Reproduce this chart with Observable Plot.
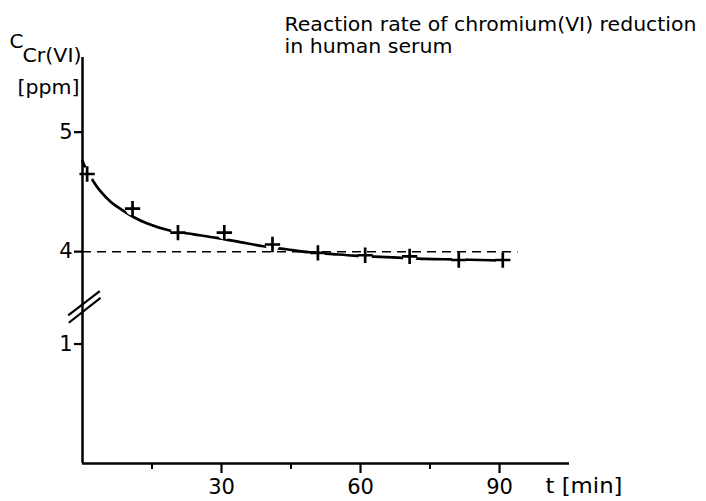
<!DOCTYPE html>
<html><head><meta charset="utf-8">
<script src="https://cdn.jsdelivr.net/npm/d3@7"></script>
<script src="https://cdn.jsdelivr.net/npm/@observablehq/plot@0.6"></script>
<style>body{margin:0;background:#fff;} svg{display:block}</style>
</head><body><div id="chart"></div>
<script>
// measured points (crosses)
const pointT = [1, 10.8, 20.6, 30.6, 41, 50.8, 61, 70.6, 81.2, 90.7];
const pointC = [4.65, 4.36, 4.16, 4.16, 4.06, 3.99, 3.97, 3.96, 3.93, 3.93];
// fitted curve
const curveT = [0, 1, 2, 3, 4, 6, 8.5, 11, 14, 19, 24, 29, 34, 39, 44, 49, 54, 58.5, 63, 68, 74, 80, 86, 91.3];
const curveC = [4.76, 4.67, 4.61, 4.55, 4.5, 4.42, 4.35, 4.29, 4.235, 4.175, 4.145, 4.115, 4.08, 4.045, 4.02, 3.995, 3.98, 3.967, 3.958, 3.95, 3.94, 3.935, 3.93, 3.925];
// reference level
const refLevel = [4];
const refEndT = 94;
// ticks
const xTicksMajor = [30, 60, 90];
const xTicksMinor = [15, 45, 75];
const yTicks = [1, 4, 5];
// axis break: values up to breakLow are shifted up to join at breakHigh
const breakLow = 1.29, breakHigh = 3.517, yMax = 5.625;
const xMax = 105.1;
// break marks
const breakX1 = [-3.09, -2.96];
const breakY1 = [1.239, 1.178];
const breakX2 = [3.73, 3.89];
const breakY2 = [3.670, 3.614];

const points = pointT.map((t, i) => ({t, c: pointC[i]}));
const curve = curveT.map((t, i) => ({t, c: curveC[i]}));
const breaks = breakX1.map((x1, i) => ({x1, y1: breakY1[i], x2: breakX2[i], y2: breakY2[i]}));

const shift = breakHigh - breakLow;
const yTransform = v => (v <= breakLow ? v + shift : v);
const yInverse = v => (v < breakHigh ? v - shift : v);

const font = "DejaVu Sans, sans-serif";
const chart = Plot.plot({
  width: 706, height: 501,
  marginLeft: 82, marginRight: 137, marginTop: 57, marginBottom: 38,
  style: {fontFamily: font, background: "#fff", color: "#000", overflow: "visible"},
  x: {domain: [0, xMax]},
  y: {transform: yTransform, domain: [shift, yMax]},
  marks: [
    Plot.line(curve, {x: "t", y: "c", curve: "monotone-x", stroke: "#000", strokeWidth: 2.7}),
    Plot.dot(points, {x: "t", y: "c", r: 7, fill: "#fff", stroke: "none"}),
    Plot.dot(points, {x: "t", y: "c", symbol: "plus", r: 5, stroke: "#000", strokeWidth: 2.7}),
    Plot.ruleY(refLevel, {x1: 0, x2: refEndT, stroke: "#000", strokeWidth: 1.5, strokeDasharray: "9,6"}),
    Plot.ruleX([0], {stroke: "#000", strokeWidth: 2.5}),
    Plot.ruleY([0], {stroke: "#000", strokeWidth: 2.5}),
    Plot.link(breaks, {x1: "x1", y1: "y1", x2: "x2", y2: "y2", stroke: "#000", strokeWidth: 2.2}),
    Plot.axisX({ticks: xTicksMajor, tickSize: 10, tickPadding: 6, fontSize: 21, strokeWidth: 2.2, label: null, tickFormat: d => String(d)}),
    Plot.axisX({ticks: xTicksMinor, tickSize: 6, tickFormat: () => "", strokeWidth: 2, label: null}),
    Plot.axisY({ticks: yTicks.map(yTransform), tickSize: 8, tickPadding: 2, fontSize: 21, strokeWidth: 2.2, label: null, tickFormat: d => String(Math.round(yInverse(d)))}),
    // annotations
    Plot.text(["Reaction rate of chromium(VI) reduction"], {frameAnchor: "top-left", dx: 202, dy: -41, textAnchor: "start", fontSize: 20, className: "t-title1"}),
    Plot.text(["in human serum"], {frameAnchor: "top-left", dx: 202, dy: -19, textAnchor: "start", fontSize: 20, className: "t-title2"}),
    Plot.text(["C"], {frameAnchor: "top-left", dx: -73, dy: -24, textAnchor: "start", fontSize: 20}),
    Plot.text(["Cr(VI)"], {frameAnchor: "top-left", dx: -60, dy: -9, textAnchor: "start", fontSize: 19, className: "t-sub"}),
    Plot.text(["[ppm]"], {frameAnchor: "top-left", dx: -65, dy: 23, textAnchor: "start", fontSize: 19, className: "t-ppm"}),
    Plot.text(["t [min]"], {frameAnchor: "bottom-right", dx: -24, dy: 29, textAnchor: "start", fontSize: 21, className: "t-xlab"})
  ]
});
const lengths = {"t-title1": 412, "t-title2": 168, "t-sub": 59, "t-ppm": 62, "t-xlab": 77};
for (const [cls, L] of Object.entries(lengths)) {
  d3.select(chart).selectAll(`.${cls} text`).attr("textLength", L).attr("lengthAdjust", "spacingAndGlyphs");
}
document.getElementById("chart").appendChild(chart);
</script>
</body></html>
